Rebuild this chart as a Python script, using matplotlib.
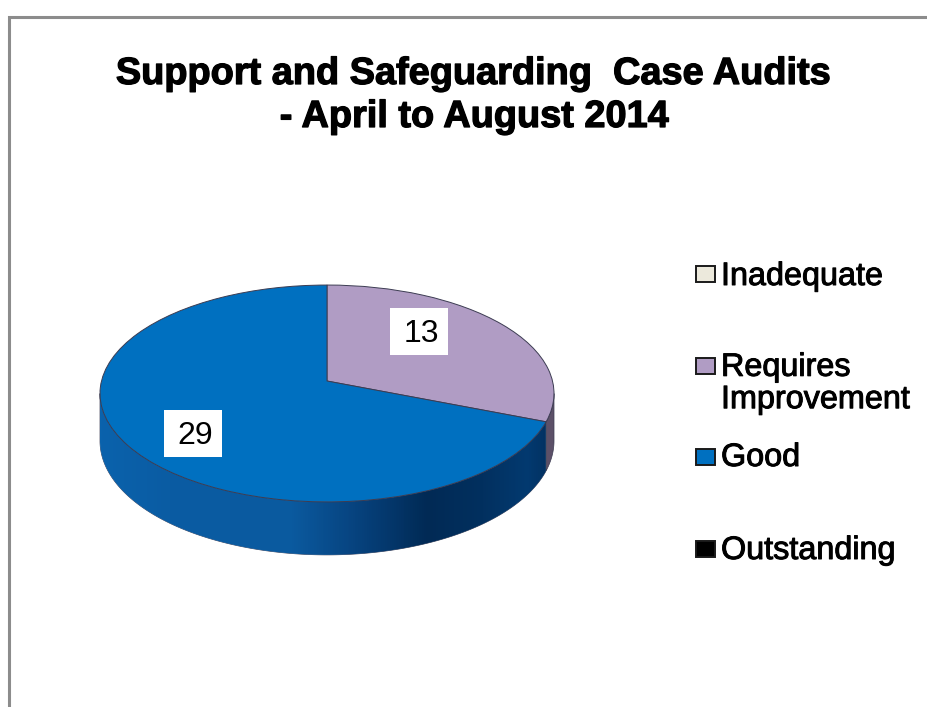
import numpy as np
import matplotlib
matplotlib.use("Agg")
import matplotlib.pyplot as plt
import matplotlib.patheffects as pe
from matplotlib.colors import LinearSegmentedColormap
from matplotlib.lines import Line2D
from matplotlib.patches import PathPatch, Rectangle
from matplotlib.path import Path
from matplotlib.transforms import Transform

plt.rcParams['font.family'] = ['Liberation Sans', 'DejaVu Sans']

title_lines = ["Support and Safeguarding  Case Audits", "- April to August 2014"]
categories = ["Inadequate", "Requires\nImprovement", "Good", "Outstanding"]
values = [0, 13, 29, 0]
colors = ["#ece9dc", "#b09cc4", "#0070c0", "#000000"]
side_colors = ["#8a8878", "#5c5068", None, "#000000"]

W, H = 928, 707
CX, CY, SX, SY, K, DEPTH = 327, 381, 225.5, 107, 0.115, 53


class Perspective(Transform):
    input_dims = output_dims = 2

    def transform_non_affine(self, v):
        v = np.asarray(v, dtype=float)
        w = 1 + K * v[:, 1]
        return np.column_stack([CX + SX * v[:, 0] / w, CY - SY * v[:, 1] / w])


fig = plt.figure(figsize=(W / 100, H / 100), dpi=100, facecolor="white")
ax = fig.add_axes([0, 0, 1, 1])
wedges, _ = ax.pie(values, colors=colors, startangle=90, counterclock=False,
                   radius=1, center=(0, 0), frame=False,
                   wedgeprops=dict(linewidth=0))
persp = Perspective()
ax.set_aspect("auto")
ax.set_xlim(0, W)
ax.set_ylim(H, 0)
ax.axis("off")
T = persp + ax.transData

side_cmap = LinearSegmentedColormap.from_list("side", [
    (0.00, "#0a62ac"), (0.15, "#0a5ca3"), (0.42, "#0b5a9f"), (0.56, "#07437f"),
    (0.72, "#012a55"), (0.84, "#02305f"), (0.94, "#033a70"), (1.00, "#022e5c")])

# visible outer wall of each wedge
t_left, t_right = -180 + np.degrees(np.arcsin(K)), -np.degrees(np.arcsin(K))
thetas = np.linspace(t_left, t_right, 500)
for wedge, val, side in zip(wedges, values, side_colors):
    wedge.set_transform(T)
    wedge.set_zorder(3)
    wedge.set_edgecolor("#3c3c52")
    wedge.set_linewidth(0.7)
    if val == 0:
        wedge.set_visible(False)
        continue
    span = wedge.theta2 - wedge.theta1
    t = thetas[((thetas - wedge.theta1) % 360) <= span]
    rad = np.radians(t)
    top = persp.transform_non_affine(np.column_stack([np.cos(rad), np.sin(rad)]))
    drop = DEPTH * (0.88 - 0.12 * np.sin(rad))
    bottom = (top + np.column_stack([np.zeros_like(drop), drop]))[::-1]
    verts = np.vstack([top, bottom, top[:1]])
    path = Path(verts, closed=True)
    patch = PathPatch(path, transform=ax.transData, facecolor=side or "none",
                      edgecolor="#3c3c52", linewidth=0.5, zorder=1)
    ax.add_patch(patch)
    if side is None:
        grad = np.linspace(0, 1, 456)[None, :]
        im = ax.imshow(grad, cmap=side_cmap, extent=(100, 556, 560, 380),
                       aspect="auto", zorder=2)
        im.set_clip_path(patch)
ax.set_xlim(0, W)
ax.set_ylim(H, 0)

# data labels
label_pos = {1: (419, 332), 2: (193, 434)}
for i, (x, y) in label_pos.items():
    ax.add_patch(Rectangle((x - 29, y - 24), 58, 47, facecolor="white", edgecolor="none", zorder=4))
    ax.text(x + 2, y + 2, str(values[i]), fontsize=23, ha="center", va="center", color="black", zorder=5)

# title
stroke = [pe.withStroke(linewidth=0.7, foreground="black")]
title_stroke = [pe.withStroke(linewidth=0.9, foreground="black")]
ax.text(473, 74, title_lines[0], fontsize=27.3, fontweight="bold", ha="center", va="center", path_effects=title_stroke)
ax.text(474, 117, title_lines[1], fontsize=27.3, fontweight="bold", ha="center", va="center", path_effects=title_stroke)

# legend
swatch_y = [274, 366, 457, 549]
text_y = [277, 384, 458, 551]
for cat, col, sy, ty in zip(categories, colors, swatch_y, text_y):
    ax.add_patch(Rectangle((696, sy - 8), 19, 16, facecolor=col, edgecolor="#1a1a1a", linewidth=1.4, zorder=4))
    ax.text(721, ty, cat, fontsize=23.3, ha="left", va="center", linespacing=1.1,
            color="black", path_effects=stroke)

# outer frame
ax.add_line(Line2D([9, 9, W], [H, 16.5, 16.5], color="#8c8c8c", linewidth=2.2, solid_joinstyle="miter"))

fig.savefig("out.png", dpi=100, facecolor="white")
